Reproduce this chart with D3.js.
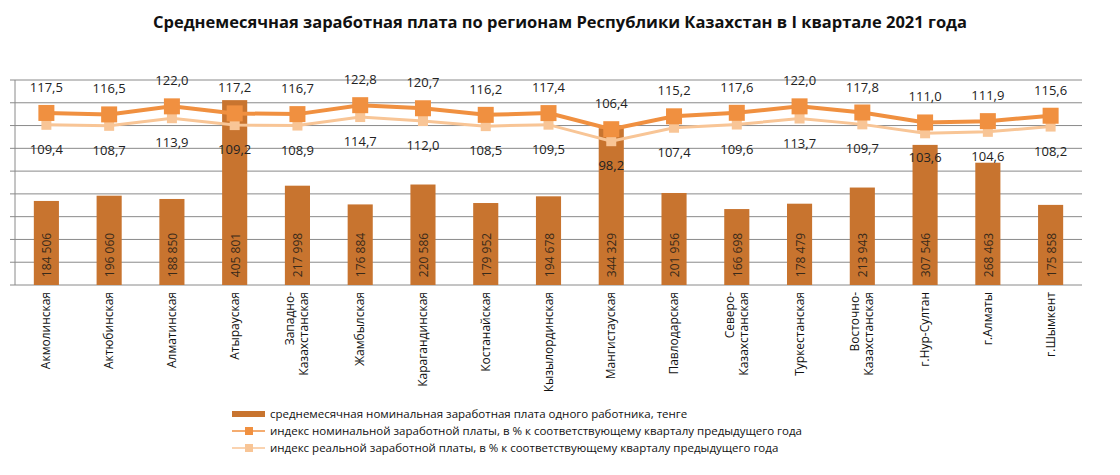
<!DOCTYPE html>
<html><head><meta charset="utf-8">
<script src="https://cdn.jsdelivr.net/npm/d3@7"></script>
<style>body{margin:0;background:#fff}text{font-family:"Open Sans",sans-serif}</style>
</head><body><svg id="c" width="1120" height="475"></svg>
<script>
const regions = ["Акмолинская","Актюбинская","Алматинская","Атырауская","Западно-|Казахстанская","Жамбылская","Карагандинская","Костанайская","Кызылординская","Мангистауская","Павлодарская","Северо-|Казахстанская","Туркестанская","Восточно-|Казахстанская","г.Нур-Султан","г.Алматы","г.Шымкент"];
const wages = [184506,196060,188850,405801,217998,176884,220586,179952,194678,344329,201956,166698,178479,213943,307546,268463,175858];
const nominalIdx = [117.5,116.5,122.0,117.2,116.7,122.8,120.7,116.2,117.4,106.4,115.2,117.6,122.0,117.8,111.0,111.9,115.6];
const realIdx = [109.4,108.7,113.9,109.2,108.9,114.7,112.0,108.5,109.5,98.2,107.4,109.6,113.7,109.7,103.6,104.6,108.2];

const svg = d3.select("#c");
const plotTop = 80, plotBottom = 285, plotLeft = 15, plotRight = 1082;
const fmtWage = d => d3.format(",")(d).replace(/,/g, " ");
const fmtIdx = d => d.toFixed(1).replace(".", ",");

svg.append("text").attr("x", 560).attr("y", 28).attr("text-anchor", "middle")
  .attr("font-size", 16.5).attr("font-weight", "bold").attr("fill", "#111")
  .text("Среднемесячная заработная  плата по регионам Республики Казахстан в I квартале 2021 года");

const x = d3.scaleBand().domain(d3.range(regions.length)).range([plotLeft, plotRight]).paddingInner(0.6).paddingOuter(0.3);
const yBar = d3.scaleLinear().domain([0, 450000]).range([plotBottom, plotTop]);
const yIdx = d3.scaleLinear().domain([0, 140]).range([plotBottom, plotTop]);

// gridlines
svg.append("g").selectAll("line").data(yBar.ticks(9)).join("line")
  .attr("x1", plotLeft).attr("x2", plotRight).attr("y1", yBar).attr("y2", yBar)
  .attr("stroke", "#8a8a8a").attr("stroke-width", 1);
svg.append("line").attr("x1", plotLeft).attr("x2", plotLeft).attr("y1", plotTop).attr("y2", plotBottom).attr("stroke", "#8a8a8a");
svg.append("g").selectAll("line").data(yBar.ticks(9)).join("line")
  .attr("x1", plotLeft - 5).attr("x2", plotLeft).attr("y1", yBar).attr("y2", yBar).attr("stroke", "#8a8a8a");

const cx = i => x(i) + x.bandwidth() / 2;

svg.append("g").selectAll("rect").data(wages).join("rect")
  .attr("x", (d, i) => x(i)).attr("width", x.bandwidth())
  .attr("y", yBar).attr("height", d => plotBottom - yBar(d)).attr("fill", "#c8742f");

svg.append("g").selectAll("text").data(wages).join("text")
  .attr("transform", (d, i) => `translate(${cx(i) + 5},255) rotate(-90)`)
  .attr("text-anchor", "middle").attr("font-size", 12).attr("fill", "#3a2a1a")
  .text(fmtWage);

const line = yS => d3.line().x((d, i) => cx(i)).y(yS);
svg.append("path").datum(realIdx).attr("d", line(yIdx)).attr("fill", "none")
  .attr("stroke", "#f8c596").attr("stroke-width", 3);
svg.append("g").selectAll("rect").data(realIdx).join("rect")
  .attr("x", (d, i) => cx(i) - 5).attr("y", d => yIdx(d) - 5).attr("width", 10).attr("height", 10).attr("fill", "#f8c596");
svg.append("path").datum(nominalIdx).attr("d", line(yIdx)).attr("fill", "none")
  .attr("stroke", "#f09040").attr("stroke-width", 4);
svg.append("g").selectAll("rect").data(nominalIdx).join("rect")
  .attr("x", (d, i) => cx(i) - 8).attr("y", d => yIdx(d) - 8).attr("width", 16).attr("height", 16).attr("fill", "#f09040");

svg.append("g").selectAll("text").data(nominalIdx).join("text")
  .attr("x", (d, i) => cx(i)).attr("y", d => yIdx(d) - 21)
  .attr("text-anchor", "middle").attr("font-size", 13).attr("fill", "#222").text(fmtIdx);
svg.append("g").selectAll("text").data(realIdx).join("text")
  .attr("x", (d, i) => cx(i)).attr("y", d => yIdx(d) + 29)
  .attr("text-anchor", "middle").attr("font-size", 13).attr("fill", "#222").text(fmtIdx);

// category labels
const lab = svg.append("g").selectAll("text").data(regions).join("text")
  .attr("transform", (d, i) => `translate(${cx(i)},292) rotate(-90)`)
  .attr("text-anchor", "end").attr("font-size", 12).attr("fill", "#111");
lab.each(function (d) {
  const parts = d.split("|");
  const t = d3.select(this);
  parts.forEach((p, k) => t.append("tspan").attr("x", 0)
    .attr("dy", k === 0 ? (parts.length > 1 ? -3 : 4) : 14).text(p));
});

// legend
const lg = svg.append("g").attr("font-size", 11.5).attr("fill", "#111");
const items = [
  ["bar", "среднемесячная номинальная  заработная плата одного работника, тенге"],
  ["#f09040", "индекс номинальной заработной платы, в % к соответствующему кварталу предыдущего года"],
  ["#f8c596", "индекс реальной заработной  платы, в % к соответствующему  кварталу предыдущего года"]];
items.forEach(([k, t], i) => {
  const y = 414 + i * 17;
  if (k === "bar") lg.append("rect").attr("x", 232).attr("y", y - 3).attr("width", 33).attr("height", 6).attr("fill", "#c8742f");
  else {
    lg.append("line").attr("x1", 232).attr("x2", 265).attr("y1", y).attr("y2", y).attr("stroke", k).attr("stroke-width", 1.5);
    lg.append("rect").attr("x", 245).attr("y", y - 4).attr("width", 8).attr("height", 8).attr("fill", k);
  }
  lg.append("text").attr("x", 270).attr("y", y + 4).text(t);
});
</script></body></html>
